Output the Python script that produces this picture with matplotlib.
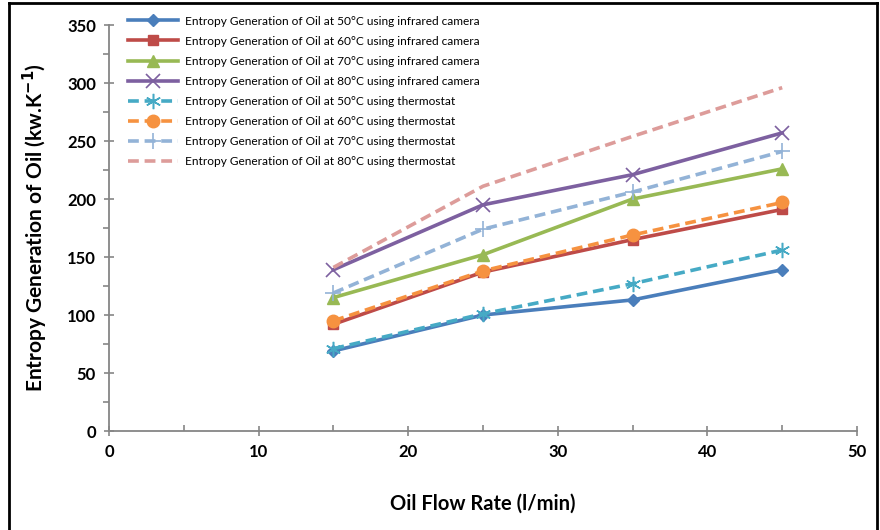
import matplotlib
matplotlib.use("Agg")
import matplotlib.pyplot as plt
from matplotlib.lines import Line2D
from matplotlib.ticker import MultipleLocator

plt.rcParams['font.family'] = ['Lato', 'DejaVu Sans']

flow = [15, 25, 35, 45]
ir_50 = [69, 100, 113, 139]
ir_60 = [92, 137, 165, 191]
ir_70 = [115, 152, 200, 226]
ir_80 = [139, 195, 221, 257]
th_50 = [71, 101, 127, 156]
th_60 = [95, 138, 169, 197]
th_70 = [119, 174, 206, 241]
th_80 = [141, 211, 254, 296]

labels = [
    "Entropy Generation of Oil at 50°C using infrared camera",
    "Entropy Generation of Oil at 60°C using infrared camera",
    "Entropy Generation of Oil at 70°C using infrared camera",
    "Entropy Generation of Oil at 80°C using infrared camera",
    "Entropy Generation of Oil at 50°C using thermostat",
    "Entropy Generation of Oil at 60°C using thermostat",
    "Entropy Generation of Oil at 70°C using thermostat",
    "Entropy Generation of Oil at 80°C using thermostat",
]
series = [ir_50, ir_60, ir_70, ir_80, th_50, th_60, th_70, th_80]

styles = [
    dict(color='#4A7EBB', ls='-', marker='D', ms=6.5, mew=1),
    dict(color='#BE4B48', ls='-', marker='s', ms=7.5, mew=1),
    dict(color='#98B954', ls='-', marker='^', ms=8, mew=1),
    dict(color='#7D60A0', ls='-', marker='x', ms=10, mew=1.2),
    dict(color='#46AAC5', ls='--', marker=(6, 2, 0), ms=11, mew=1.1),
    dict(color='#F69240', ls='--', marker='o', ms=9, mew=1),
    dict(color='#93B3D7', ls='--', marker='+', ms=11, mew=1.2),
    dict(color='#DD9C9A', ls='--', marker=None, ms=0, mew=0),
]

fig = plt.figure(figsize=(8.8, 5.3), dpi=100)
ax = fig.add_axes([109/880, (530-431)/530, (857-109)/880, (431-25)/530])

for y, lab, st in zip(series, labels, styles):
    ax.plot(flow, y, label=lab, color=st['color'], linestyle=st['ls'], lw=2.6,
            marker=st['marker'], markersize=st['ms'], markeredgewidth=st['mew'],
            markerfacecolor=st['color'], markeredgecolor=st['color'],
            dashes=(3, 1.6) if st['ls'] == '--' else (None, None))

ax.set_xlim(0, 50)
ax.set_ylim(0, 350)
ax.xaxis.set_major_locator(MultipleLocator(10))
ax.xaxis.set_minor_locator(MultipleLocator(5))
ax.yaxis.set_major_locator(MultipleLocator(50))
ax.yaxis.set_minor_locator(MultipleLocator(25))

for s in ['top', 'right']:
    ax.spines[s].set_visible(False)
for s in ['left', 'bottom']:
    ax.spines[s].set_color('#868686')
    ax.spines[s].set_linewidth(1.3)

ax.tick_params(axis='both', which='major', direction='inout', length=7, width=1.2,
               color='#868686', labelsize=12, pad=6)
ax.tick_params(axis='y', which='minor', direction='out', length=4, width=1.2, color='#868686')
ax.tick_params(axis='x', which='minor', direction='in', length=4, width=1.2, color='#868686')
for t in ax.get_xticklabels() + ax.get_yticklabels():
    t.set_fontweight('bold')

ax.set_xlabel("Oil Flow Rate (l/min)", fontsize=14.5, fontweight='bold', labelpad=24)
ax.set_ylabel("Entropy Generation of Oil (kw.K$^{\\mathbf{-1}}$)", fontsize=15,
              fontweight='bold', labelpad=12)

leg = ax.legend(loc='upper left', bbox_to_anchor=(14/748, 1.035), frameon=False,
                fontsize=8.6, handlelength=4.2, handletextpad=0.6,
                labelspacing=0.76, borderaxespad=0)

# outer border
for xs, ys in [([9/880, 9/880], [0, 527/530]), ([9/880, 877/880], [527/530, 527/530]),
               ([877/880, 877/880], [0, 527/530])]:
    fig.add_artist(Line2D(xs, ys, transform=fig.transFigure, color='black', lw=2))

fig.savefig("out.png", dpi=100)
